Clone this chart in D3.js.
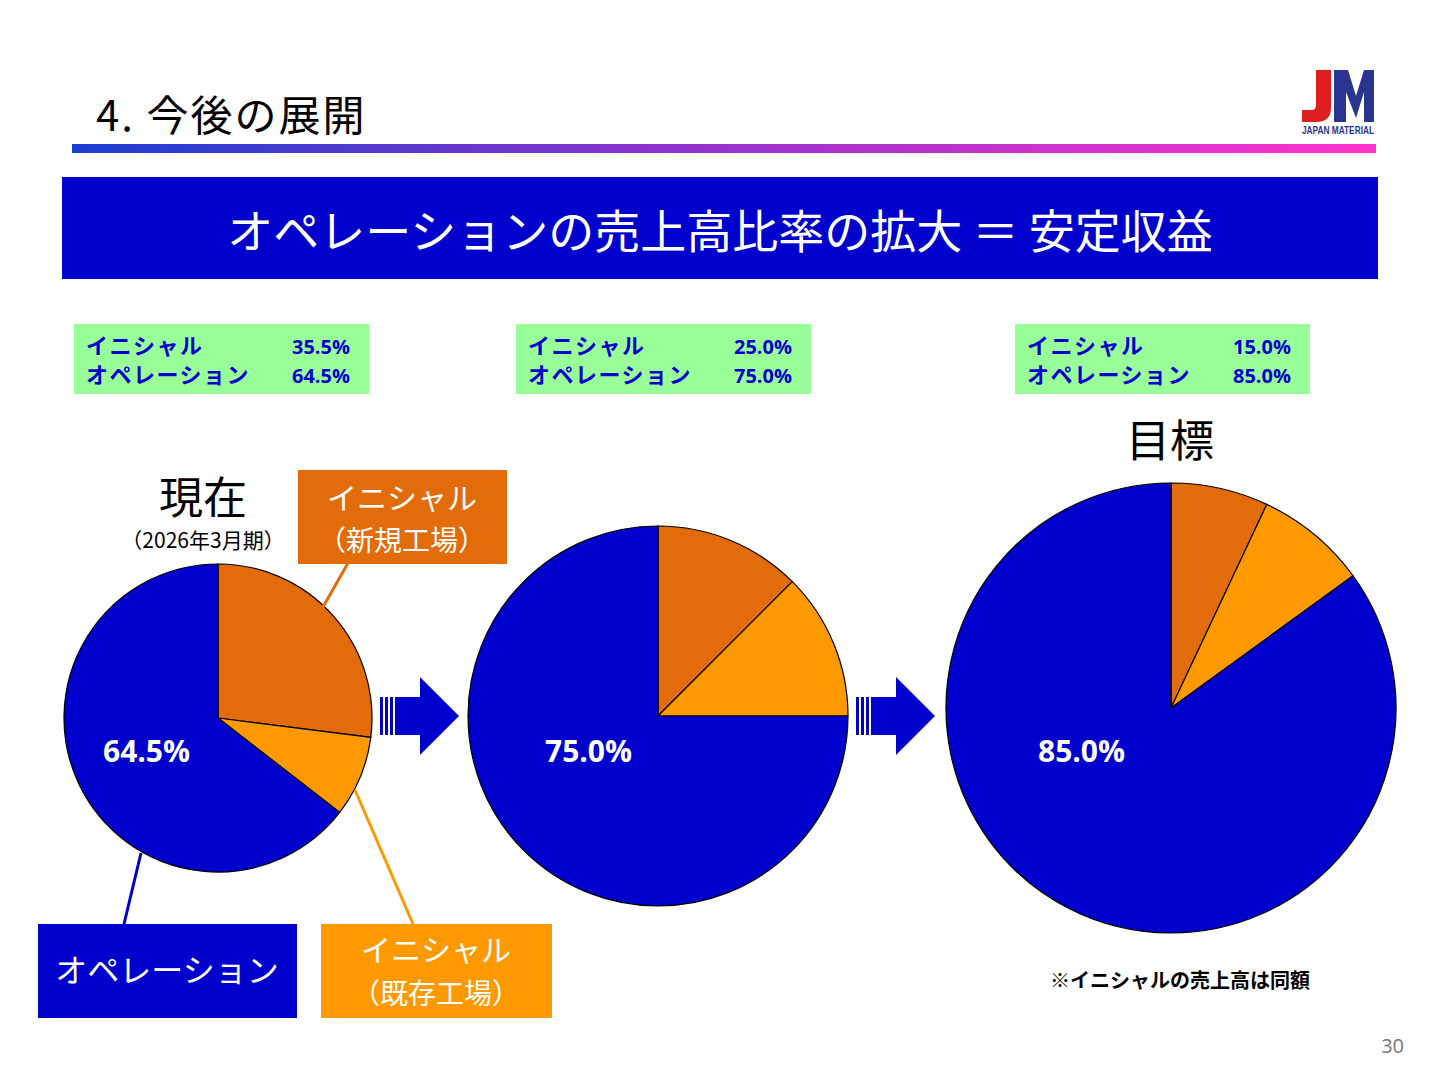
<!DOCTYPE html>
<html><head><meta charset="utf-8">
<script src="https://cdn.jsdelivr.net/npm/d3@7"></script>
<style>body{margin:0;background:#fff}svg{display:block;font-family:"Noto Sans CJK JP","Noto Sans",sans-serif}</style>
</head><body><svg id="c" width="1440" height="1080"></svg>
<script>
const sliceNames = ["新規工場イニシャル","既存工場イニシャル","オペレーション"];
const sliceColors = ["#e36c0a","#ff9900","#0000cc"];
const pieNow = [27.0, 8.5, 64.5];
const pieMid = [12.5, 12.5, 75.0];
const pieGoal = [7.0, 8.0, 85.0];
const boxInitial = ["35.5%","25.0%","15.0%"];
const boxOperation = ["64.5%","75.0%","85.0%"];
const opLabels = ["64.5%","75.0%","85.0%"];

const svg = d3.select("#c");
const defs = svg.append("defs");
const g = defs.append("linearGradient").attr("id","gr");
g.append("stop").attr("offset","0").attr("stop-color","#1a3fd0");
g.append("stop").attr("offset","0.5").attr("stop-color","#9933cc");
g.append("stop").attr("offset","1").attr("stop-color","#ff33cc");

svg.append("text").attr("x",96).attr("y",131).attr("font-size",42).attr("fill","#000").attr("letter-spacing",2).text("4.  今後の展開");
svg.append("rect").attr("x",72).attr("y",144).attr("width",1304).attr("height",9).attr("fill","url(#gr)");
svg.append("path").attr("fill","#e02020").attr("d","M1316,70H1331V108Q1331,122 1316,122H1302V110H1312Q1316,110 1316,104Z");
svg.append("path").attr("fill","#2a3590").attr("d","M1334,70H1348L1356,96L1364,70H1374V122H1364V92L1356,118L1346,92V122H1334Z");
svg.append("text").attr("x",1338).attr("y",134).attr("font-size",10).attr("font-weight","bold").attr("text-anchor","middle").attr("font-family","Liberation Sans").attr("fill","#2a3590").attr("textLength",72).attr("lengthAdjust","spacingAndGlyphs").text("JAPAN MATERIAL");

svg.append("rect").attr("x",62).attr("y",177).attr("width",1316).attr("height",102).attr("fill","#0000cc");
svg.append("text").attr("x",720).attr("y",248).attr("text-anchor","middle").attr("font-size",46).attr("fill","#fff").text("オペレーションの売上高比率の拡大 ＝ 安定収益");

[74,516,1015].forEach((x,i)=>{
  svg.append("rect").attr("x",x).attr("y",324).attr("width",295).attr("height",70).attr("fill","#99ff99");
  const t = svg.append("g").attr("font-size",22).attr("font-weight","bold").attr("fill","#0000cc");
  t.append("text").attr("x",x+12).attr("y",354).attr("letter-spacing",1.5).text("イニシャル");
  t.append("text").attr("x",x+12).attr("y",383).attr("letter-spacing",1.5).text("オペレーション");
  t.append("text").attr("x",x+276).attr("y",354).attr("text-anchor","end").attr("font-family","Open Sans").attr("font-size",20).text(boxInitial[i]);
  t.append("text").attr("x",x+276).attr("y",383).attr("text-anchor","end").attr("font-family","Open Sans").attr("font-size",20).text(boxOperation[i]);
});

const pies = [{d:pieNow,cx:218,cy:718,r:154,lx:103,ly:762},{d:pieMid,cx:658,cy:716,r:190,lx:545,ly:762},{d:pieGoal,cx:1171,cy:708,r:225,lx:1038,ly:762}];
const pieGen = d3.pie().sort(null).value(d=>d);
pies.forEach((p,k)=>{
  const arc = d3.arc().innerRadius(0).outerRadius(p.r);
  const gg = svg.append("g").attr("transform",`translate(${p.cx},${p.cy})`);
  gg.selectAll("path").data(pieGen(p.d)).join("path").attr("d",arc)
    .attr("fill",(d,i)=>sliceColors[i]).attr("stroke","#000").attr("stroke-width",1.2);
  svg.append("text").attr("x",p.lx).attr("y",p.ly).attr("font-size",30).attr("font-weight","bold").attr("font-family","Open Sans").attr("fill","#fff").text(opLabels[k]);
});

function arrow(x,y){
  const a = svg.append("g").attr("fill","#0000cc");
  [0,5,10].forEach(o=>a.append("rect").attr("x",x+o).attr("y",y+20).attr("width",3).attr("height",38));
  a.append("path").attr("d",`M${x+15},${y+20}H${x+40}V${y}L${x+79},${y+39}L${x+40},${y+78}V${y+58}H${x+15}Z`);
}
arrow(380,677); arrow(856,677);

svg.append("text").attr("x",203).attr("y",514).attr("text-anchor","middle").attr("font-size",44).text("現在");
svg.append("text").attr("x",203).attr("y",548).attr("text-anchor","middle").attr("font-size",21).text("（2026年3月期）");
svg.append("text").attr("x",1170).attr("y",457).attr("text-anchor","middle").attr("font-size",44).text("目標");

svg.append("line").attr("x1",348).attr("y1",563).attr("x2",323).attr("y2",607).attr("stroke","#e36c0a").attr("stroke-width",3);
svg.append("rect").attr("x",298).attr("y",470).attr("width",209).attr("height",94).attr("fill","#e36c0a");
svg.append("text").attr("x",402).attr("y",509).attr("text-anchor","middle").attr("font-size",30).attr("fill","#fff").text("イニシャル");
svg.append("text").attr("x",402).attr("y",551).attr("text-anchor","middle").attr("font-size",28).attr("fill","#fff").text("（新規工場）");

svg.append("line").attr("x1",355).attr("y1",790).attr("x2",413).attr("y2",924).attr("stroke","#ff9900").attr("stroke-width",3);
svg.append("rect").attr("x",321).attr("y",924).attr("width",231).attr("height",94).attr("fill","#ff9900");
svg.append("text").attr("x",436).attr("y",961).attr("text-anchor","middle").attr("font-size",30).attr("fill","#fff").text("イニシャル");
svg.append("text").attr("x",436).attr("y",1004).attr("text-anchor","middle").attr("font-size",28).attr("fill","#fff").text("（既存工場）");

svg.append("line").attr("x1",141).attr("y1",853).attr("x2",124).attr("y2",924).attr("stroke","#0000cc").attr("stroke-width",3);
svg.append("rect").attr("x",38).attr("y",924).attr("width",259).attr("height",94).attr("fill","#0000cc");
svg.append("text").attr("x",167).attr("y",982).attr("text-anchor","middle").attr("font-size",32).attr("fill","#fff").text("オペレーション");

svg.append("text").attr("x",1180).attr("y",988).attr("text-anchor","middle").attr("font-size",20).attr("font-weight","bold").text("※イニシャルの売上高は同額");
svg.append("text").attr("x",1404).attr("y",1053).attr("text-anchor","end").attr("font-size",20).attr("font-family","Open Sans").attr("fill","#777").text("30");
</script></body></html>
